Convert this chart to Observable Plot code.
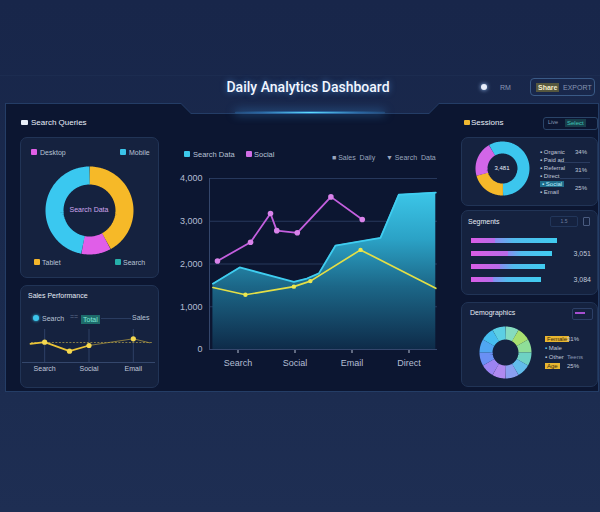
<!DOCTYPE html>
<html><head><meta charset="utf-8">
<script src="https://cdn.jsdelivr.net/npm/d3@7"></script>
<script src="https://cdn.jsdelivr.net/npm/@observablehq/plot@0.6"></script>
<style>
html,body{margin:0;padding:0;}
body{width:600px;height:512px;overflow:hidden;position:relative;background:linear-gradient(#18264a,#1a2a4d 55%,#1e2e53);font-family:"Liberation Sans",Arial,sans-serif;color:#c8d0e0;}
.a{position:absolute;white-space:nowrap;line-height:1;}
.frame{position:absolute;left:5px;top:103px;width:594px;height:289px;background:#243d66;clip-path:polygon(0 0,176px 0,186px 10px,424px 10px,434px 0,100% 0,100% 100%,0 100%);}
.panel{position:absolute;left:6px;top:104px;width:592px;height:287px;background:#0c1631;clip-path:polygon(0 0,175px 0,185px 10px,423px 10px,433px 0,100% 0,100% 100%,0 100%);}
.card{position:absolute;background:#15223f;border:1px solid #213456;border-radius:7px;}
.t{font-size:7px;color:#b8c2d6;}
.sw{position:absolute;width:6px;height:6px;border-radius:1px;}
.row{position:absolute;font-size:6px;color:#c0c8da;white-space:nowrap;line-height:1;}
.sep{position:absolute;height:1px;background:#2a3c60;}
</style></head>
<body>
<script>
// ---------- data ----------
const channels = ["Search", "Social", "Email", "Direct"];
const yTicks = [0, 1000, 2000, 3000, 4000];
const searchT = [0.06, 0.53, 1.48, 1.71, 1.92, 2.21, 3.0, 3.32, 3.97];
const searchV = [1540, 1920, 1580, 1660, 1780, 2430, 2610, 3620, 3670];
const socialT = [0.14, 0.72, 1.07, 1.18, 1.54, 2.13, 2.68];
const socialV = [2070, 2510, 3180, 2780, 2730, 3570, 3040];
const salesT = [0.06, 0.63, 1.48, 1.77, 2.65, 3.97];
const salesV = [1450, 1280, 1470, 1600, 2330, 1430];

const deviceLabels = ["Tablet", "Desktop", "Mobile"];
const deviceShare = [42, 11, 47];

const miniCats = ["Search", "Social", "Email"];
const miniT = [-0.32, 0, 0.56, 1, 2, 2.37];
const miniV = [18.7, 20.3, 11.3, 17, 23.7, 19.7];
const miniTarget = [20];

const sessionLabels = ["Direct", "Paid", "Organic"];
const sessionShare = [58, 21, 21];

const segNames = ["Segment A", "Segment B", "Segment C", "Segment D"];
const segPrimary = [24, 37, 29, 22];
const segTotal = [86, 81, 74, 70];
const segLabels = ["", "3,051", "", "3,084"];

const demoShare = [1, 1, 1, 1, 1, 1, 1, 1, 1, 1, 1, 1];

// ---------- styles ----------
const CYAN = "#3fcdf0", MAG = "#c45fdf", YEL = "#e4df46";
const deviceColors = ["#f6b928", "#e05ee8", "#3ac8f0"];
const sessionColors = ["#3cc6ee", "#f5b82a", "#d266e8"];
const demoColors = ["#86dcc0", "#a8e070", "#8fde98", "#6ed2c4", "#62bcea", "#8aa0f0", "#b08af0", "#9c84f2", "#6a90f4", "#50a6f2", "#46bef0", "#5ccfe4"];
const baseStyle = {background: "transparent", overflow: "visible", fontFamily: "Liberation Sans, Arial, sans-serif", color: "#b8c2d6"};

function place(node, left, top) {
  const d = document.createElement("div");
  d.className = "a";
  d.style.left = left + "px"; d.style.top = top + "px";
  d.appendChild(node);
  document.body.appendChild(d);
  return node;
}
function addGradient(svg, id, stops, dir) {
  const ns = "http://www.w3.org/2000/svg";
  let defs = svg.querySelector("defs");
  if (!defs) { defs = document.createElementNS(ns, "defs"); svg.insertBefore(defs, svg.firstChild); }
  const g = document.createElementNS(ns, "linearGradient");
  g.setAttribute("id", id);
  const [x1, y1, x2, y2] = dir;
  g.setAttribute("x1", x1); g.setAttribute("y1", y1); g.setAttribute("x2", x2); g.setAttribute("y2", y2);
  for (const [off, col] of stops) {
    const s = document.createElementNS(ns, "stop");
    s.setAttribute("offset", off); s.setAttribute("stop-color", col);
    g.appendChild(s);
  }
  defs.appendChild(g);
}
function donut(values, colors, {size, outer, inner, start}) {
  const total = d3.sum(values);
  const mid = (outer + inner) / 2;
  const pts = [];
  let a0 = start;
  values.forEach((v, i) => {
    const span = v / total * 360;
    const n = Math.max(2, Math.ceil(span / 2));
    for (let k = 0; k <= n; ++k) {
      const a = (a0 + span * k / n) * Math.PI / 180;
      pts.push({slice: i, color: colors[i], x: mid * Math.sin(a), y: mid * Math.cos(a)});
    }
    a0 += span;
  });
  return Plot.plot({
    width: size, height: size, margin: 0, style: baseStyle,
    x: {domain: [-size / 2, size / 2], axis: null},
    y: {domain: [-size / 2, size / 2], axis: null},
    color: {type: "identity"},
    marks: [Plot.line(pts, {x: "x", y: "y", z: "slice", stroke: "color", strokeWidth: outer - inner, strokeLinecap: "butt", strokeLinejoin: "miter"})]
  });
}

// ---------- static layout ----------
document.body.insertAdjacentHTML("beforeend", `
<div class="a" style="left:0;top:75px;width:600px;height:1px;background:#1c2c50"></div>
<div class="frame"></div><div class="panel"></div>
<div class="a" style="left:235px;top:111px;width:150px;height:3px;border-radius:2px;background:radial-gradient(ellipse at center,#5fe0ff 0%,rgba(60,170,255,.5) 45%,rgba(40,120,220,0) 100%);box-shadow:0 0 10px rgba(70,170,255,.6)"></div>
<div class="a" style="left:188px;top:80px;width:240px;text-align:center;font-family:Roboto,'Liberation Sans',sans-serif;font-size:14px;font-weight:500;color:#f2f6ff;text-shadow:0 0 6px rgba(90,170,255,.6)">Daily Analytics Dashboard</div>
<div class="a" style="left:481px;top:84px;width:6px;height:6px;border-radius:3px;background:#e8eefa;box-shadow:0 0 4px #9fc8ff"></div>
<div class="a t" style="left:500px;top:84px;color:#8a98b4">RM</div>
<div class="a" style="left:530px;top:78px;width:63px;height:16px;border:1px solid #3a5a86;border-radius:4px"></div>
<div class="a" style="left:536px;top:83px;font-size:7px;color:#f5eccc;background:#56573e;padding:1px 2px;font-weight:bold">Share</div>
<div class="a t" style="left:563px;top:84px;color:#8796b2">EXPORT</div>

<div class="a" style="left:21px;top:120px;width:7px;height:5px;background:#e8eef8;border-radius:1px"></div>
<div class="a" style="left:31px;top:119px;font-size:8px;color:#e8eef8">Search Queries</div>
<div class="card" style="left:20px;top:137px;width:137px;height:139px"></div>
<div class="sw" style="left:31px;top:149px;background:#df5fe6"></div><div class="a t" style="left:40px;top:149px">Desktop</div>
<div class="sw" style="left:120px;top:149px;background:#3ac4ea"></div><div class="a t" style="left:129px;top:149px">Mobile</div>
<div class="sw" style="left:34px;top:259px;background:#f3b52a"></div><div class="a t" style="left:42px;top:259px">Tablet</div>
<div class="sw" style="left:115px;top:259px;background:#26b0aa"></div><div class="a t" style="left:123px;top:259px">Search</div>
<div class="a" style="left:64px;top:206px;width:50px;text-align:center;font-size:7px;color:#cfa6ee">Search Data</div>

<div class="card" style="left:20px;top:285px;width:137px;height:101px"></div>
<div class="a" style="left:28px;top:292px;font-size:7px;color:#e6ecf6">Sales Performance</div>
<div class="a" style="left:33px;top:315px;width:6px;height:6px;border-radius:3px;background:#3cc4ea;box-shadow:0 0 3px #3cc4ea"></div>
<div class="a t" style="left:42px;top:315px">Search</div>
<div class="a t" style="left:70px;top:313px;color:#5f6f90">==</div>
<div class="a" style="left:81px;top:315px;font-size:7px;color:#7fe8d8;background:#1d6b6a;padding:1px 2px">Total</div>
<div class="sep" style="left:101px;top:318px;width:30px"></div>
<div class="a t" style="left:132px;top:314px">Sales</div>

<div class="sw" style="left:184px;top:151px;background:#3cc8ea"></div><div class="a t" style="left:193px;top:151px;font-size:7.5px">Search Data</div>
<div class="sw" style="left:246px;top:151px;background:#d06ee6"></div><div class="a t" style="left:254px;top:151px;font-size:7.5px">Social</div>
<div class="a t" style="left:332px;top:154px;color:#9aa6be">■ Sales &nbsp;Daily</div>
<div class="a t" style="left:386px;top:154px;color:#9aa6be">▼ Search &nbsp;Data</div>

<div class="a" style="left:464px;top:120px;width:6px;height:5px;background:#f0b830;border-radius:1px"></div>
<div class="a" style="left:471px;top:119px;font-size:8px;color:#e8eef8">Sessions</div>
<div class="a" style="left:543px;top:117px;width:53px;height:11px;border:1px solid #2a4468;border-radius:3px"></div>
<div class="a t" style="left:548px;top:120px;font-size:5.5px;color:#8a98b4">Live</div>
<div class="a" style="left:565px;top:119px;font-size:6px;color:#3fc8b8;background:#173d4a;padding:1px 2px">Select</div>
<div class="card" style="left:461px;top:137px;width:135px;height:67px"></div>
<div class="a" style="left:490px;top:165px;width:24px;text-align:center;font-size:6px;color:#e8eef8">3,481</div>
<div class="row" style="left:540px;top:149px">▪ Organic</div><div class="row" style="left:575px;top:149px">34%</div>
<div class="row" style="left:540px;top:157px">▪ Paid ad</div>
<div class="sep" style="left:560px;top:162px;width:30px"></div>
<div class="row" style="left:540px;top:165px">▪ Referral</div><div class="row" style="left:575px;top:167px">31%</div>
<div class="row" style="left:540px;top:173px">▪ Direct</div>
<div class="sep" style="left:560px;top:178px;width:30px"></div>
<div class="row" style="left:540px;top:181px;background:#1d6b8a;color:#bfefff;padding:0 2px">▪ Social</div><div class="row" style="left:575px;top:185px">25%</div>
<div class="row" style="left:540px;top:189px">▪ Email</div>

<div class="card" style="left:461px;top:210px;width:135px;height:83px"></div>
<div class="a" style="left:468px;top:218px;font-size:7px;color:#e6ecf6">Segments</div>
<div class="a" style="left:550px;top:216px;width:26px;height:9px;border:1px solid #22365a;border-radius:2px;font-size:5px;color:#6f80a0;text-align:center;line-height:9px">1.5</div>
<div class="a" style="left:583px;top:217px;width:5px;height:7px;border:1px solid #4a5c80;border-radius:1px"></div>

<div class="card" style="left:461px;top:302px;width:135px;height:83px"></div>
<div class="a" style="left:470px;top:309px;font-size:7px;color:#e6ecf6">Demographics</div>
<div class="a" style="left:572px;top:308px;width:19px;height:10px;border:1px solid #2c3f66;border-radius:2px"></div>
<div class="a" style="left:575px;top:312px;width:10px;height:2px;background:#a64fd0"></div>
<div class="row" style="left:545px;top:336px;background:#e8b630;color:#3a2a10;padding:0 2px">Female</div><div class="row" style="left:567px;top:336px">31%</div>
<div class="row" style="left:545px;top:345px"><span style="color:#5cc8f0">▪</span> Male</div>
<div class="row" style="left:545px;top:354px">▪ Other</div><div class="row" style="left:567px;top:354px;color:#8a98b4">Teens</div>
<div class="row" style="left:545px;top:363px;background:#e8b630;color:#3a2a10;padding:0 2px">Age</div><div class="row" style="left:567px;top:363px">25%</div>
`);

// ---------- main chart ----------
const search = searchT.map((t, i) => ({t, v: searchV[i]}));
const social = socialT.map((t, i) => ({t, v: socialV[i]}));
const sales = salesT.map((t, i) => ({t, v: salesV[i]}));

const main = Plot.plot({
  width: 280, height: 215, marginLeft: 39, marginRight: 13, marginTop: 13, marginBottom: 31,
  style: {...baseStyle, fontSize: "9px", color: "#b4bed3"},
  x: {domain: [0, 4], ticks: channels.map((_, i) => i + 0.5), tickFormat: d => channels[Math.floor(d)], tickSize: 4, tickPadding: 6, label: null},
  y: {domain: [0, 4000], ticks: yTicks, tickSize: 0, tickPadding: 7, label: null},
  marks: [
    Plot.ruleY(yTicks.slice(1), {stroke: "#27385c"}),
    Plot.areaY(search, {x: "t", y: "v", fill: "url(#mainArea)"}),
    Plot.lineY(search, {x: "t", y: "v", stroke: CYAN, strokeWidth: 1.8}),
    Plot.lineY(sales, {x: "t", y: "v", stroke: YEL, strokeWidth: 1.7}),
    Plot.dot(sales.slice(1, 5), {x: "t", y: "v", r: 2.2, fill: "#ece750"}),
    Plot.lineY(social, {x: "t", y: "v", stroke: MAG, strokeWidth: 1.8}),
    Plot.dot(social, {x: "t", y: "v", r: 2.8, fill: "#d983ea"}),
    Plot.ruleX([0], {stroke: "#34466c"}),
    Plot.ruleY([0], {stroke: "#34466c"})
  ]
});
addGradient(main, "mainArea", [[0, "#3cc6e8"], [0.3, "#2ba2c6"], [0.6, "#1c6788"], [1, "#0e2b49"]], [0, 0, 0, 1]);
place(main, 170, 165);

// ---------- left donut ----------
place(donut(deviceShare, deviceColors, {size: 100, outer: 44, inner: 26, start: 0}), 39, 160);

// ---------- mini line chart ----------
const mini = miniT.map((t, i) => ({t, v: miniV[i]}));
const miniPlot = Plot.plot({
  width: 138, height: 55, marginLeft: 2, marginRight: 3, marginTop: 2, marginBottom: 18,
  style: {...baseStyle, fontSize: "7px", color: "#c0c8da"},
  x: {domain: [-0.5, 2.5], ticks: [0, 1, 2], tickFormat: d => miniCats[d], tickSize: 0, tickPadding: 4, label: null},
  y: {domain: [0, 35], axis: null},
  marks: [
    Plot.ruleX([0, 1, 2], {y1: 0, y2: 33, stroke: "#2e4066"}),
    Plot.ruleY([0], {stroke: "#34476c"}),
    Plot.ruleY(miniTarget, {x1: -0.3, x2: 2.45, stroke: "#857c48", strokeDasharray: "2,1.5"}),
    Plot.line(mini.slice(0, 4), {x: "t", y: "v", stroke: "#eac438", strokeWidth: 1.8}),
    Plot.line(mini.slice(3), {x: "t", y: "v", stroke: "#b8a040", strokeWidth: 1, strokeOpacity: 0.7}),
    Plot.dot(mini.slice(1, 5), {x: "t", y: "v", r: 2.6, fill: "#f4d850"})
  ]
});
place(miniPlot, 20, 325);

// ---------- sessions donut ----------
place(donut(sessionShare, sessionColors, {size: 60, outer: 27, inner: 15, start: -30}), 472, 138);

// ---------- segments bars ----------
const segs = segNames.map((name, i) => ({name, p: segPrimary[i], total: segTotal[i], label: segLabels[i]}));
const bars = Plot.plot({
  width: 135, height: 56, marginLeft: 9, marginRight: 26, marginTop: 1, marginBottom: 1,
  style: {...baseStyle, fontSize: "7px"},
  x: {domain: [0, 100], axis: null},
  y: {domain: segNames, range: [1.33, 54.67], paddingInner: 0.62, paddingOuter: 0.31, axis: null},
  marks: [
    Plot.barX(segs, {x1: 0, x2: "p", y: "name", fill: "url(#barMag)"}),
    Plot.barX(segs, {x1: "p", x2: "total", y: "name", fill: "url(#barCyan)"}),
    Plot.text(segs.filter(d => d.label), {x: 100, y: "name", text: "label", dx: 2, textAnchor: "start", fill: "#c0c8da", fontSize: 7})
  ]
});
addGradient(bars, "barMag", [[0, "#da5ce6"], [1, "#b86ce8"]], [0, 0, 1, 0]);
addGradient(bars, "barCyan", [[0, "#8a8cf0"], [0.3, "#52bcee"], [1, "#40ccf0"]], [0, 0, 1, 0]);
place(bars, 462, 232);

// ---------- demographics donut ----------
place(donut(demoShare, demoColors, {size: 56, outer: 26, inner: 13, start: 0}), 477, 324);
</script>
</body></html>
